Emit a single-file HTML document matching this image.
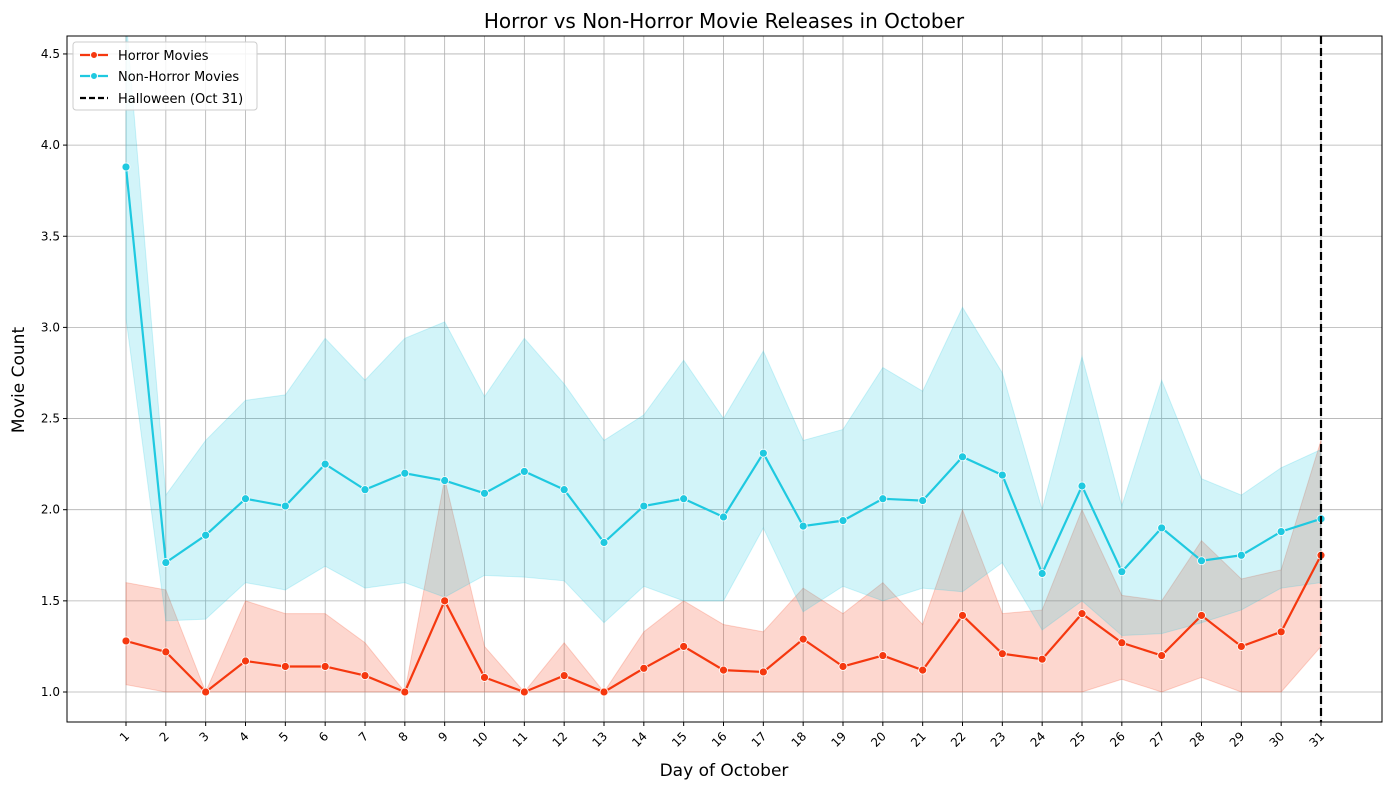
<!DOCTYPE html>
<html><head><meta charset="utf-8"><style>
body{margin:0;background:#fff;font-family:"Liberation Sans","DejaVu Sans",sans-serif;}
</style></head><body>
<svg id="chart" width="1389" height="790" xmlns="http://www.w3.org/2000/svg" font-family="DejaVu Sans, Liberation Sans, sans-serif">
<defs><clipPath id="clip"><rect x="67" y="36" width="1315" height="686"/></clipPath></defs>
<text x="724" y="28" text-anchor="middle" font-size="20">Horror vs Non-Horror Movie Releases in October</text>
<text x="724" y="776" text-anchor="middle" font-size="17">Day of October</text>
<text transform="translate(24,380) rotate(-90)" text-anchor="middle" font-size="17">Movie Count</text>
<g id="grid"></g><g id="bands" clip-path="url(#clip)"></g><g id="lines" clip-path="url(#clip)"></g><g id="ticks"></g>
<rect x="67" y="36" width="1315" height="686" fill="none" stroke="#000" stroke-width="1"/>
<g>
<rect x="73" y="42" width="184" height="68" rx="3" fill="#fff" fill-opacity="0.85" stroke="#ccc"/>
<line x1="80" y1="55" x2="108" y2="55" stroke="#f5380f" stroke-width="2.2"/><circle cx="94" cy="55" r="3.5" fill="#f5380f" stroke="#fff"/>
<text x="118" y="60" font-size="13">Horror Movies</text>
<line x1="80" y1="76" x2="108" y2="76" stroke="#1fc9e0" stroke-width="2.2"/><circle cx="94" cy="76" r="3.5" fill="#1fc9e0" stroke="#fff"/>
<text x="118" y="81" font-size="13">Non-Horror Movies</text>
<line x1="80" y1="98" x2="108" y2="98" stroke="#000" stroke-width="2.2" stroke-dasharray="6,3"/>
<text x="118" y="103" font-size="13">Halloween (Oct 31)</text>
</g>
</svg>
<script>
const days=[1,2,3,4,5,6,7,8,9,10,11,12,13,14,15,16,17,18,19,20,21,22,23,24,25,26,27,28,29,30,31];
const horrorMean=[1.28,1.22,1.0,1.17,1.14,1.14,1.09,1.0,1.5,1.08,1.0,1.09,1.0,1.13,1.25,1.12,1.11,1.29,1.14,1.2,1.12,1.42,1.21,1.18,1.43,1.27,1.2,1.42,1.25,1.33,1.75];
const horrorUpper=[1.6,1.56,1.0,1.5,1.43,1.43,1.27,1.0,2.17,1.25,1.0,1.27,1.0,1.33,1.5,1.37,1.33,1.57,1.43,1.6,1.37,2.0,1.43,1.45,2.0,1.53,1.5,1.83,1.62,1.67,2.38];
const horrorLower=[1.04,1.0,1.0,1.0,1.0,1.0,1.0,1.0,1.0,1.0,1.0,1.0,1.0,1.0,1.0,1.0,1.0,1.0,1.0,1.0,1.0,1.0,1.0,1.0,1.0,1.07,1.0,1.08,1.0,1.0,1.25];
const nonMean=[3.88,1.71,1.86,2.06,2.02,2.25,2.11,2.2,2.16,2.09,2.21,2.11,1.82,2.02,2.06,1.96,2.31,1.91,1.94,2.06,2.05,2.29,2.19,1.65,2.13,1.66,1.9,1.72,1.75,1.88,1.95];
const nonUpper=[4.7,2.08,2.38,2.6,2.63,2.94,2.71,2.94,3.03,2.62,2.94,2.69,2.38,2.52,2.82,2.5,2.87,2.38,2.44,2.78,2.65,3.11,2.75,2.0,2.84,2.02,2.71,2.17,2.08,2.23,2.33];
const nonLower=[3.05,1.39,1.4,1.6,1.56,1.69,1.57,1.6,1.52,1.64,1.63,1.61,1.38,1.58,1.5,1.5,1.9,1.44,1.58,1.5,1.57,1.55,1.71,1.34,1.5,1.31,1.32,1.38,1.45,1.57,1.6];
const yTicks=[1.0,1.5,2.0,2.5,3.0,3.5,4.0,4.5];
const halloweenDay=31;
const NS="http://www.w3.org/2000/svg";
const X=d=>126+(d-1)*(1195/30);
const Y=v=>692-(v-1)*182.3;
function mk(tag,attrs,parent){const e=document.createElementNS(NS,tag);for(const k in attrs)e.setAttribute(k,attrs[k]);document.getElementById(parent).appendChild(e);return e;}
days.forEach(d=>{
 const g=mk('line',{x1:X(d),x2:X(d),y1:36,y2:722,stroke:'#b0b0b0','stroke-width':0.8},'grid');
 
 
 const t=mk('text',{transform:`translate(${X(d)+4},${737}) rotate(-45)`,'text-anchor':'end','font-size':12},'ticks');
 t.textContent=d;
 
 
 mk('line',{x1:X(d),x2:X(d),y1:722,y2:726,stroke:'#000'},'ticks');
});
yTicks.forEach(v=>{
 const g=mk('line',{x1:67,x2:1382,y1:Y(v),y2:Y(v),stroke:'#b0b0b0','stroke-width':0.8},'grid');
 
 
 const t=mk('text',{x:60,y:Y(v)+4,'text-anchor':'end','font-size':12},'ticks');
 t.textContent=v.toFixed(1);
 
 
 mk('line',{x1:63,x2:67,y1:Y(v),y2:Y(v),stroke:'#000'},'ticks');
});
function band(up,lo,color,name){
 let p=days.map((d,i)=>X(d)+','+Y(up[i])).join(' ')+' '+days.slice().reverse().map((d,j)=>X(d)+','+Y(lo[days.length-1-j])).join(' ');
 const b=mk('polygon',{points:p,fill:color,'fill-opacity':0.2,stroke:color,'stroke-opacity':0.2},'bands');
 
 
}
band(horrorUpper,horrorLower,'#f5380f','horror-confidence-band');
band(nonUpper,nonLower,'#1fc9e0','non-horror-confidence-band');
function series(vals,color,name){
 const l=mk('polyline',{points:days.map((d,i)=>X(d)+','+Y(vals[i])).join(' '),fill:'none',stroke:color,'stroke-width':2.2},'lines');
 
 
 days.forEach((d,i)=>{
  const c=mk('circle',{cx:X(d),cy:Y(vals[i]),r:4,fill:color,stroke:'#fff','stroke-width':0.8},'lines');
  
  
 });
}
series(horrorMean,'#f5380f','horror');
series(nonMean,'#1fc9e0','non-horror');
const hl=mk('line',{x1:X(halloweenDay),x2:X(halloweenDay),y1:36,y2:722,stroke:'#000','stroke-width':2.2,'stroke-dasharray':'8,4'},'lines');


</script>
</body></html>
